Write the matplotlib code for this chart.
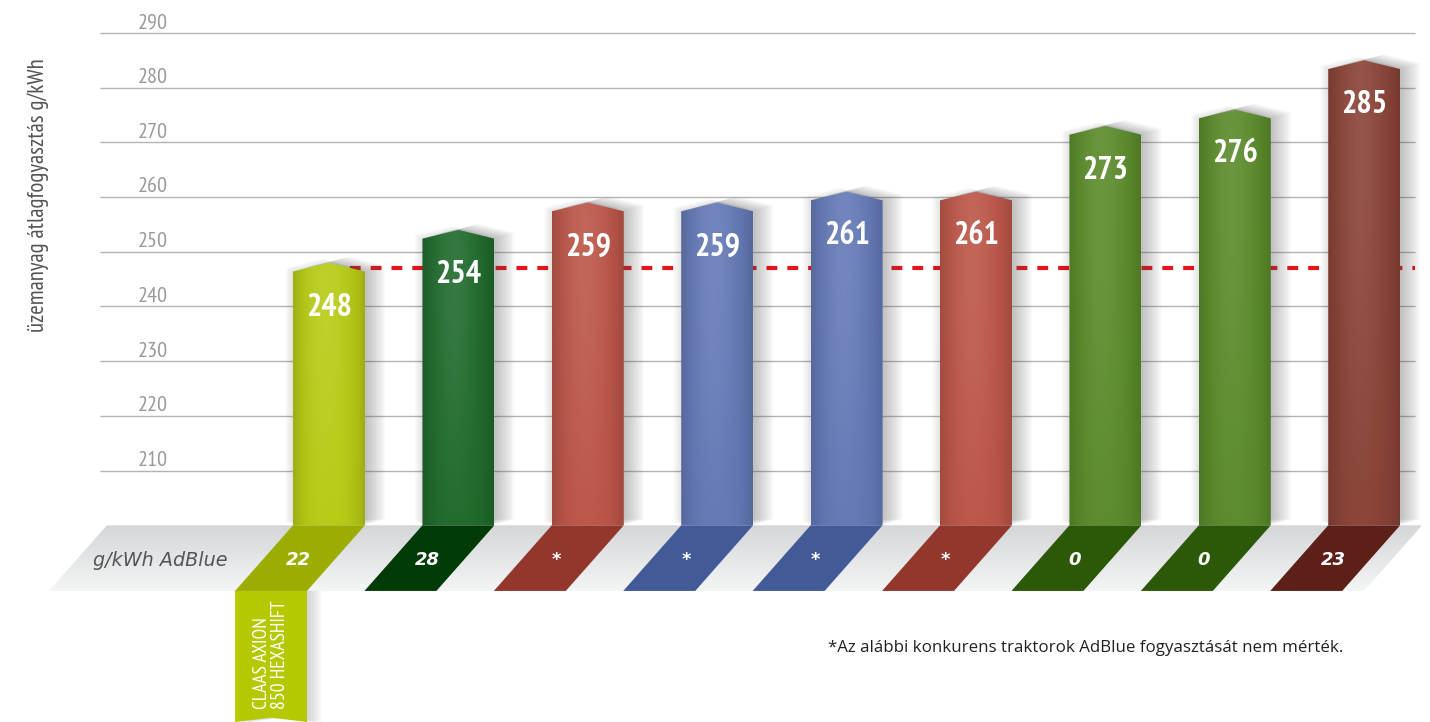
import numpy as np
import matplotlib.pyplot as plt
import matplotlib.colors as mcolors
from matplotlib.patches import Polygon

# adatok a képről
values = [248, 254, 259, 259, 261, 261, 273, 276, 285]
adblue = ['22', '28', '*', '*', '*', '*', '0', '0', '23']
bar_colors = ['#b6cb14', '#1f6a2b', '#bb5548', '#6378b5', '#6378b5',
              '#bb5548', '#5a8a2a', '#5a8a2a', '#894236']
base_colors = ['#9aad00', '#003b06', '#93372c', '#425a98', '#425a98',
               '#93372c', '#2b5907', '#2b5907', '#5c2019']
yticks = [210, 220, 230, 240, 250, 260, 270, 280, 290]
ref_line = 247
first_label = 'CLAAS AXION\n850 HEXASHIFT'
ylabel = 'üzemanyag átlagfogyasztás g/kWh'
adblue_title = 'g/kWh AdBlue'
footnote = '*Az alábbi konkurens traktorok AdBlue fogyasztását nem mérték.'

narrow = ['PT Sans Narrow', 'Roboto Condensed', 'Archivo Narrow', 'Liberation Sans']

W = 0.556      # oszlop szélesség
SLANT = 0.448  # ferde sáv eltolás
TIP = 1.6      # csúcs magassága
BASE_TOP, BASE_BOT = 200, 188


def grad_poly(ax, verts, img, z):
    poly = Polygon(verts, closed=True, fc='none', ec='none', zorder=z)
    ax.add_patch(poly)
    xs = [p[0] for p in verts]
    ys = [p[1] for p in verts]
    im = ax.imshow(img, extent=(min(xs), max(xs), min(ys), max(ys)), origin='upper',
                   aspect='auto', zorder=z, interpolation='bilinear')
    im.set_clip_path(poly)


def bar_img(color):
    base = np.array(mcolors.to_rgb(color))
    u = np.linspace(0, 1, 80)[None, :]
    t = np.linspace(0, 1, 200)[:, None]
    light = 0.10 * np.exp(-((u - 0.45) ** 2 / 0.08 + (t - 0.2) ** 2 / 0.4))
    dark = 0.14 * np.abs(2 * u - 1) ** 3
    f = base[None, None, :] * (1 - dark[..., None]) * (1 - light[..., None]) + light[..., None]
    return np.clip(f, 0, 1)


fig = plt.figure(figsize=(14.3, 7.22), dpi=100)
ax = fig.add_axes([0, 0, 1, 1])
ax.axis('off')

n = len(values)
x = np.arange(n)

# rács
ax.hlines(yticks, -1.77, 8.393, color='#b3b3b3', lw=1.0, zorder=1)
for t in yticks:
    ax.text(-1.36, t + 1.85, str(t), ha='center', va='center', fontsize=16,
            color='#9a9a9a', family=narrow)

ax.plot([0, 8.393], [ref_line, ref_line], color='#e3141b', lw=3,
        linestyle=(0, (2.6, 2.4)), zorder=2)

# oszlopok
for i, v in enumerate(values):
    c = x[i]
    verts = [(c - W / 2, BASE_TOP), (c - W / 2, v - TIP), (c, v),
             (c + W / 2, v - TIP), (c + W / 2, BASE_TOP)]
    for k in range(1, 10):
        dx = k * 0.017
        sh = [(px + dx, py + k * 0.12) for px, py in verts]
        ax.add_patch(Polygon(sh, closed=True, fc='#505050', ec='none', alpha=0.045, zorder=2.5))
        sh = [(px - dx * 0.4, py + k * 0.08) for px, py in verts]
        ax.add_patch(Polygon(sh, closed=True, fc='#505050', ec='none', alpha=0.015, zorder=2.5))
    grad_poly(ax, verts, bar_img(bar_colors[i]), 3)
    ax.text(c, v - 8.2, str(v), ha='center', va='center', fontsize=23,
            fontweight='bold', color='white', family=narrow, zorder=6)

# szürke sáv
strip = [(-1.716, BASE_TOP), (8.447, BASE_TOP), (8.447 - SLANT, BASE_BOT), (-1.716 - SLANT, BASE_BOT)]
tt = np.linspace(0, 1, 100)[:, None, None]
top_c = np.array(mcolors.to_rgb('#d5d6d8'))
bot_c = np.array(mcolors.to_rgb('#f4f5f5'))
grad_poly(ax, strip, (1 - tt) * top_c + tt * bot_c, 4)
ax.text(-1.306, 193.6, adblue_title, ha='center', va='center', fontsize=13.8,
        style='italic', color='#555555', zorder=6)

for i, a in enumerate(adblue):
    c = x[i]
    par = [(c - W / 2, BASE_TOP), (c + W / 2, BASE_TOP),
           (c + W / 2 - SLANT, BASE_BOT), (c - W / 2 - SLANT, BASE_BOT)]
    ax.add_patch(Polygon(par, closed=True, fc=base_colors[i], ec='none', zorder=5))
    ax.text(c - 0.24, 193.6, a, ha='center', va='center', fontsize=13,
            fontweight='bold', style='italic', color='white', zorder=6)

# címke az első oszlop alatt
bottom = 164.04
c0 = x[0] - SLANT
box = [(c0 - W / 2, BASE_BOT), (c0 + W / 2, BASE_BOT), (c0 + W / 2, bottom),
       (c0, bottom + 0.8), (c0 - W / 2, bottom)]
for k in range(1, 8):
    sh = [(px + k * 0.016, py) for px, py in box]
    ax.add_patch(Polygon(sh, closed=True, fc='#505050', ec='none', alpha=0.035, zorder=4.5))
ax.add_patch(Polygon(box, closed=True, fc='#b5c900', ec='none', zorder=5))
ax.text(c0, 176.3, first_label, rotation=90, ha='center', va='center', fontsize=14,
        color='white', family=narrow, multialignment='left', linespacing=1.0, zorder=6)

ax.text(-2.249, 260.4, ylabel, rotation=90, ha='center', va='center', fontsize=16.5,
        color='#555555', family=narrow)
ax.text(3.856, 177.6, footnote, ha='left', va='center', fontsize=12.2,
        color='#222222', family=['Open Sans', 'DejaVu Sans'])

ax.set_xlim(-2.5425, 8.5085)
ax.set_ylim(164.04, 296.03)
fig.savefig('out.png', dpi=100)
